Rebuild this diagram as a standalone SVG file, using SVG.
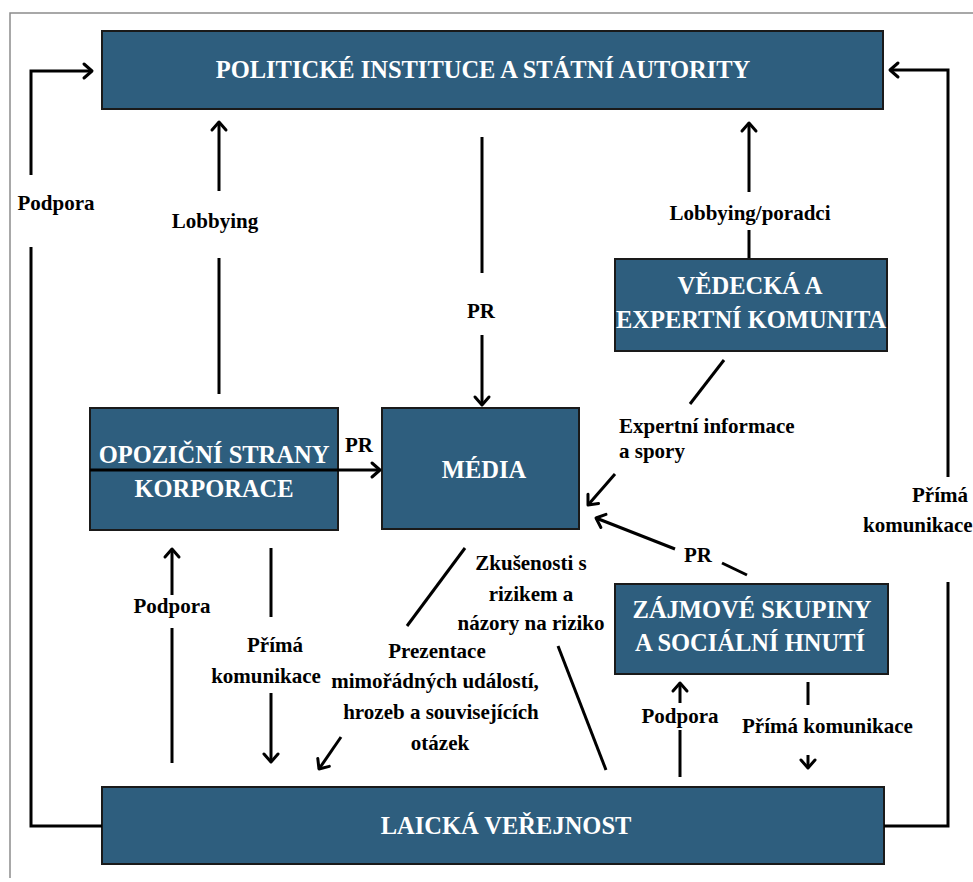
<svg xmlns="http://www.w3.org/2000/svg" width="973" height="882" viewBox="0 0 973 882">
  <style>
    .box { fill: #2e5e7e; stroke: #1a1a1a; stroke-width: 2; }
    .bt { fill: #ffffff; font-family: "Liberation Serif", "Times New Roman", serif; font-weight: bold; font-size: 24.5px; text-anchor: middle; }
    .lbl { fill: #000000; font-family: "Liberation Serif", "Times New Roman", serif; font-weight: bold; font-size: 21px; }
    .mid { text-anchor: middle; }
    .ln { fill: none; stroke: #000000; stroke-width: 3; stroke-linecap: butt; }
    .frame { fill: none; stroke: #8c8c8c; stroke-width: 1.5; }
  </style>
  <defs>
    <marker id="arr" markerUnits="userSpaceOnUse" markerWidth="20" markerHeight="20" refX="0" refY="0" viewBox="-12 -10 14 20" orient="auto">
      <path d="M-8,-7 L0,0 L-8,7" fill="none" stroke="#000" stroke-width="3" stroke-linejoin="round" stroke-linecap="round"/>
    </marker>
  </defs>

  <rect width="973" height="882" fill="#ffffff"/>
  <path class="frame" d="M973,13 H10 V878"/>

  <g id="politicke-instituce">
    <rect class="box" x="102" y="31" width="781" height="78"/>
    <text class="bt" x="483" y="78">POLITICKÉ INSTITUCE A STÁTNÍ AUTORITY</text>
  </g>

  <g id="vedecka-komunita">
    <rect class="box" x="615" y="259" width="272" height="92"/>
    <text class="bt" x="750" y="294">VĚDECKÁ A</text>
    <text class="bt" x="751" y="328">EXPERTNÍ KOMUNITA</text>
  </g>

  <g id="opozicni-strany">
    <rect class="box" x="90" y="408" width="248" height="122"/>
    <text class="bt" x="214" y="463">OPOZIČNÍ STRANY</text>
    <text class="bt" x="214" y="497">KORPORACE</text>
  </g>

  <g id="media">
    <rect class="box" x="382" y="408" width="197" height="121"/>
    <text class="bt" x="484" y="478">MÉDIA</text>
  </g>

  <g id="zajmove-skupiny">
    <rect class="box" x="615" y="584" width="273" height="90"/>
    <text class="bt" x="752" y="618">ZÁJMOVÉ SKUPINY</text>
    <text class="bt" x="750" y="651">A SOCIÁLNÍ HNUTÍ</text>
  </g>

  <g id="laicka-verejnost">
    <rect class="box" x="102" y="787" width="782" height="77"/>
    <text class="bt" x="506" y="834">LAICKÁ VEŘEJNOST</text>
  </g>

  <g id="connectors">
    <!-- public -> political institutions (left loop) -->
    <path class="ln" d="M102,826 H31 V247"/>
    <path class="ln" d="M31,175 V71 H92" marker-end="url(#arr)"/>
    <text class="lbl mid" x="56" y="210">Podpora</text>

    <!-- public -> political institutions (right loop) -->
    <path class="ln" d="M884,826 H948 V582"/>
    <path class="ln" d="M948,477 V70 H890" marker-end="url(#arr)"/>
    <text class="lbl" x="912" y="502">Přímá</text>
    <text class="lbl" x="863" y="532">komunikace</text>

    <!-- opposition -> political institutions -->
    <path class="ln" d="M219,394 V258"/>
    <path class="ln" d="M219,191 V122" marker-end="url(#arr)"/>
    <text class="lbl mid" x="215" y="228">Lobbying</text>

    <!-- political institutions -> media -->
    <path class="ln" d="M482,137 V273"/>
    <path class="ln" d="M482,335 V405" marker-end="url(#arr)"/>
    <text class="lbl mid" x="481" y="318">PR</text>

    <!-- experts -> political institutions -->
    <path class="ln" d="M749,258 V230"/>
    <path class="ln" d="M749,192 V123" marker-end="url(#arr)"/>
    <text class="lbl mid" x="750" y="220">Lobbying/poradci</text>

    <!-- opposition -> media -->
    <path class="ln" d="M90,470 H380" marker-end="url(#arr)"/>
    <text class="lbl" x="345" y="452">PR</text>

    <!-- experts -> media -->
    <path class="ln" d="M724,360 L690,404"/>
    <path class="ln" d="M615,474 L588,505" marker-end="url(#arr)"/>
    <text class="lbl" x="619" y="433">Expertní informace</text>
    <text class="lbl" x="619" y="458">a spory</text>

    <!-- interest groups -> media -->
    <path class="ln" d="M747,575 L722,563"/>
    <path class="ln" d="M675,549 L596,518" marker-end="url(#arr)"/>
    <text class="lbl" x="684" y="562">PR</text>

    <!-- media -> public -->
    <path class="ln" d="M465,548 L407,626"/>
    <path class="ln" d="M341,737 L319,769" marker-end="url(#arr)"/>
    <text class="lbl mid" x="437" y="658">Prezentace</text>
    <text class="lbl mid" x="435" y="688">mimořádných událostí,</text>
    <text class="lbl mid" x="441" y="719">hrozeb a souvisejících</text>
    <text class="lbl mid" x="440" y="750">otázek</text>

    <!-- public -> media -->
    <path class="ln" d="M606,770 L558,646"/>
    <text class="lbl mid" x="531" y="570">Zkušenosti s</text>
    <text class="lbl mid" x="531" y="601">rizikem a</text>
    <text class="lbl mid" x="531" y="630">názory na riziko</text>

    <!-- public -> opposition -->
    <path class="ln" d="M172,763 V628"/>
    <path class="ln" d="M172,595 V549" marker-end="url(#arr)"/>
    <text class="lbl mid" x="172" y="613">Podpora</text>

    <!-- opposition -> public -->
    <path class="ln" d="M271,548 V617"/>
    <path class="ln" d="M271,693 V762" marker-end="url(#arr)"/>
    <text class="lbl mid" x="275" y="652">Přímá</text>
    <text class="lbl mid" x="266" y="683">komunikace</text>

    <!-- public -> interest groups -->
    <path class="ln" d="M680,777 V730"/>
    <path class="ln" d="M680,703 V683" marker-end="url(#arr)"/>
    <text class="lbl mid" x="680" y="723">Podpora</text>

    <!-- interest groups -> public -->
    <path class="ln" d="M808,682 V705"/>
    <path class="ln" d="M808,755 V768" marker-end="url(#arr)"/>
    <text class="lbl" x="742" y="733">Přímá komunikace</text>
  </g>
</svg>
